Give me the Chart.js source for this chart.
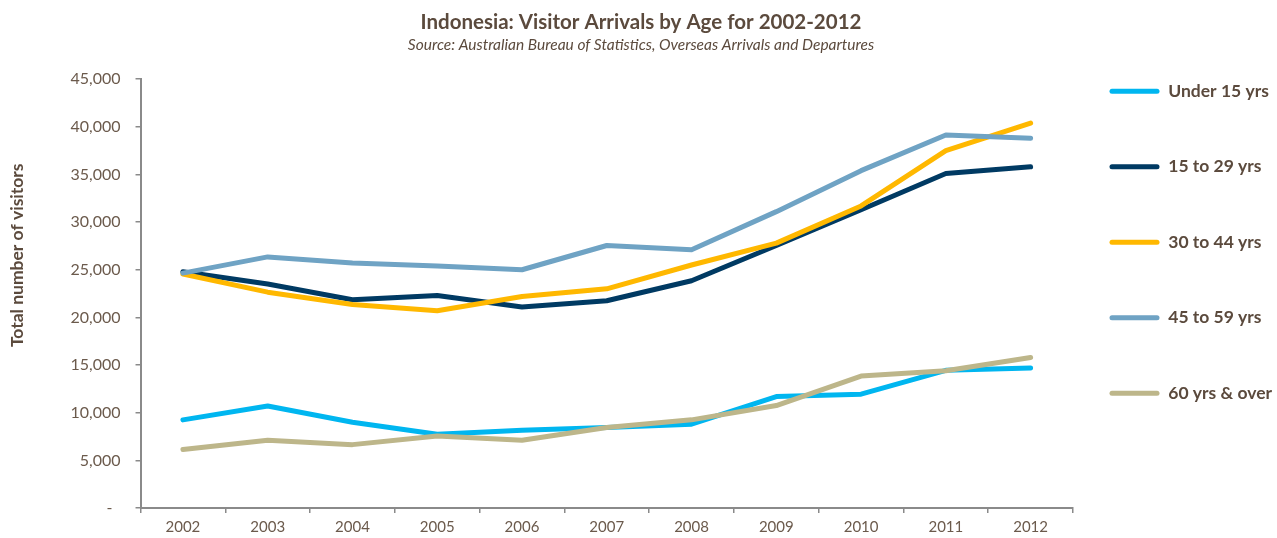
<!DOCTYPE html>
<html>
<head>
<meta charset="utf-8">
<script src="https://cdn.jsdelivr.net/npm/chart.js@4.4.1/dist/chart.umd.min.js"></script>
<style>
  html, body { margin: 0; padding: 0; background: #ffffff; }
  #wrap { width: 1277px; height: 538px; }
</style>
</head>
<body>
<div id="wrap"><canvas id="c" width="1277" height="538"></canvas></div>
<script>
const years = ['2002','2003','2004','2005','2006','2007','2008','2009','2010','2011','2012'];
const under15 = [9250, 10700, 9000, 7750, 8150, 8450, 8800, 11700, 11950, 14450, 14700];
const age15to29 = [24800, 23500, 21850, 22300, 21100, 21750, 23850, 27550, 31300, 35100, 35800];
const age30to44 = [24550, 22650, 21350, 20700, 22200, 23000, 25500, 27800, 31700, 37500, 40400];
const age45to59 = [24650, 26350, 25700, 25400, 25000, 27550, 27100, 31100, 35400, 39150, 38800];
const age60over = [6150, 7100, 6650, 7550, 7100, 8450, 9250, 10750, 13850, 14400, 15800];
const seriesNames = ['Under 15 yrs', '15 to 29 yrs', '30 to 44 yrs', '45 to 59 yrs', '60 yrs & over'];
const seriesColors = ['#00b6f0', '#003a63', '#ffb800', '#6fa3c4', '#bdb68a'];
const yTickMin = 0, yTickMax = 45000, yTickStep = 5000;

const TEXT = '#5b4a3d';
const TICK = '#6b5a4c';
const AXIS = '#8a8a8a';
const FONT = 'Lato';

const seriesValues = [under15, age15to29, age30to44, age45to59, age60over];
const datasets = seriesValues.map((vals, i) => ({
  label: seriesNames[i],
  data: vals,
  borderColor: seriesColors[i],
  backgroundColor: seriesColors[i],
  borderWidth: 5,
  pointRadius: 0,
  pointHoverRadius: 0,
  tension: 0,
  fill: false,
  borderCapStyle: 'round',
  borderJoinStyle: 'round',
  order: seriesValues.length - i
}));

new Chart(document.getElementById('c'), {
  type: 'line',
  data: { labels: years, datasets: datasets },
  options: {
    responsive: false,
    devicePixelRatio: 1,
    animation: false,
    layout: { padding: { top: 0, right: -5, bottom: -3, left: 0 } },
    plugins: {
      tooltip: { enabled: false },
      title: {
        display: true,
        text: 'Indonesia: Visitor Arrivals by Age for 2002-2012',
        fullSize: true,
        color: TEXT,
        font: { family: FONT, size: 20.5, weight: 'bold', lineHeight: 1.2 },
        padding: { top: 10, bottom: 0 }
      },
      subtitle: {
        display: true,
        text: 'Source: Australian Bureau of Statistics, Overseas Arrivals and Departures',
        fullSize: true,
        color: TEXT,
        font: { family: FONT, size: 15.5, style: 'italic', lineHeight: 1.2 },
        padding: { top: 1, bottom: 25 }
      },
      legend: {
        display: true,
        position: 'right',
        align: 'start',
        title: { display: true, text: ' ', padding: 18, font: { size: 10, lineHeight: 1 } },
        labels: {
          boxWidth: 50,
          boxHeight: 5,
          padding: 36.5,
          useBorderRadius: true,
          borderRadius: 2.5,
          color: TEXT,
          font: { family: FONT, size: 17.5, weight: 'bold', lineHeight: 39 / 17.5 },
          generateLabels: (chart) => chart.data.datasets.map((ds, i) => ({
            text: [ds.label],
            fillStyle: ds.borderColor,
            strokeStyle: ds.borderColor,
            lineWidth: 0,
            hidden: false,
            datasetIndex: i,
            fontColor: TEXT,
            borderRadius: 2.5
          }))
        }
      }
    },
    scales: {
      x: {
        type: 'category',
        offset: true,
        grid: { display: true, offset: true, drawOnChartArea: false, drawTicks: true, tickLength: 5, color: AXIS, lineWidth: 1.5 },
        border: { display: true, color: AXIS, width: 2 },
        ticks: { color: TICK, font: { family: FONT, size: 15 }, padding: 5, maxRotation: 0, autoSkip: false }
      },
      y: {
        min: yTickMin,
        max: yTickMax,
        grid: { display: true, drawOnChartArea: false, drawTicks: true, tickLength: 5, color: AXIS, lineWidth: 1.5 },
        border: { display: true, color: AXIS, width: 2 },
        ticks: {
          stepSize: yTickStep,
          color: TICK,
          font: { family: FONT, size: 16 },
          padding: 15,
          callback: (v) => v === 0 ? '-\u00a0\u00a0' : Number(v).toLocaleString('en-US')
        },
        title: {
          display: true,
          text: '\u2003\u2003\u2003\u2003\u2003\u2002\u2009Total number of visitors',
          color: TEXT,
          font: { family: FONT, size: 17.5, weight: 'bold', lineHeight: 1.2 },
          padding: { top: 7, bottom: 27.5 }
        }
      }
    }
  }
});
</script>
</body>
</html>
